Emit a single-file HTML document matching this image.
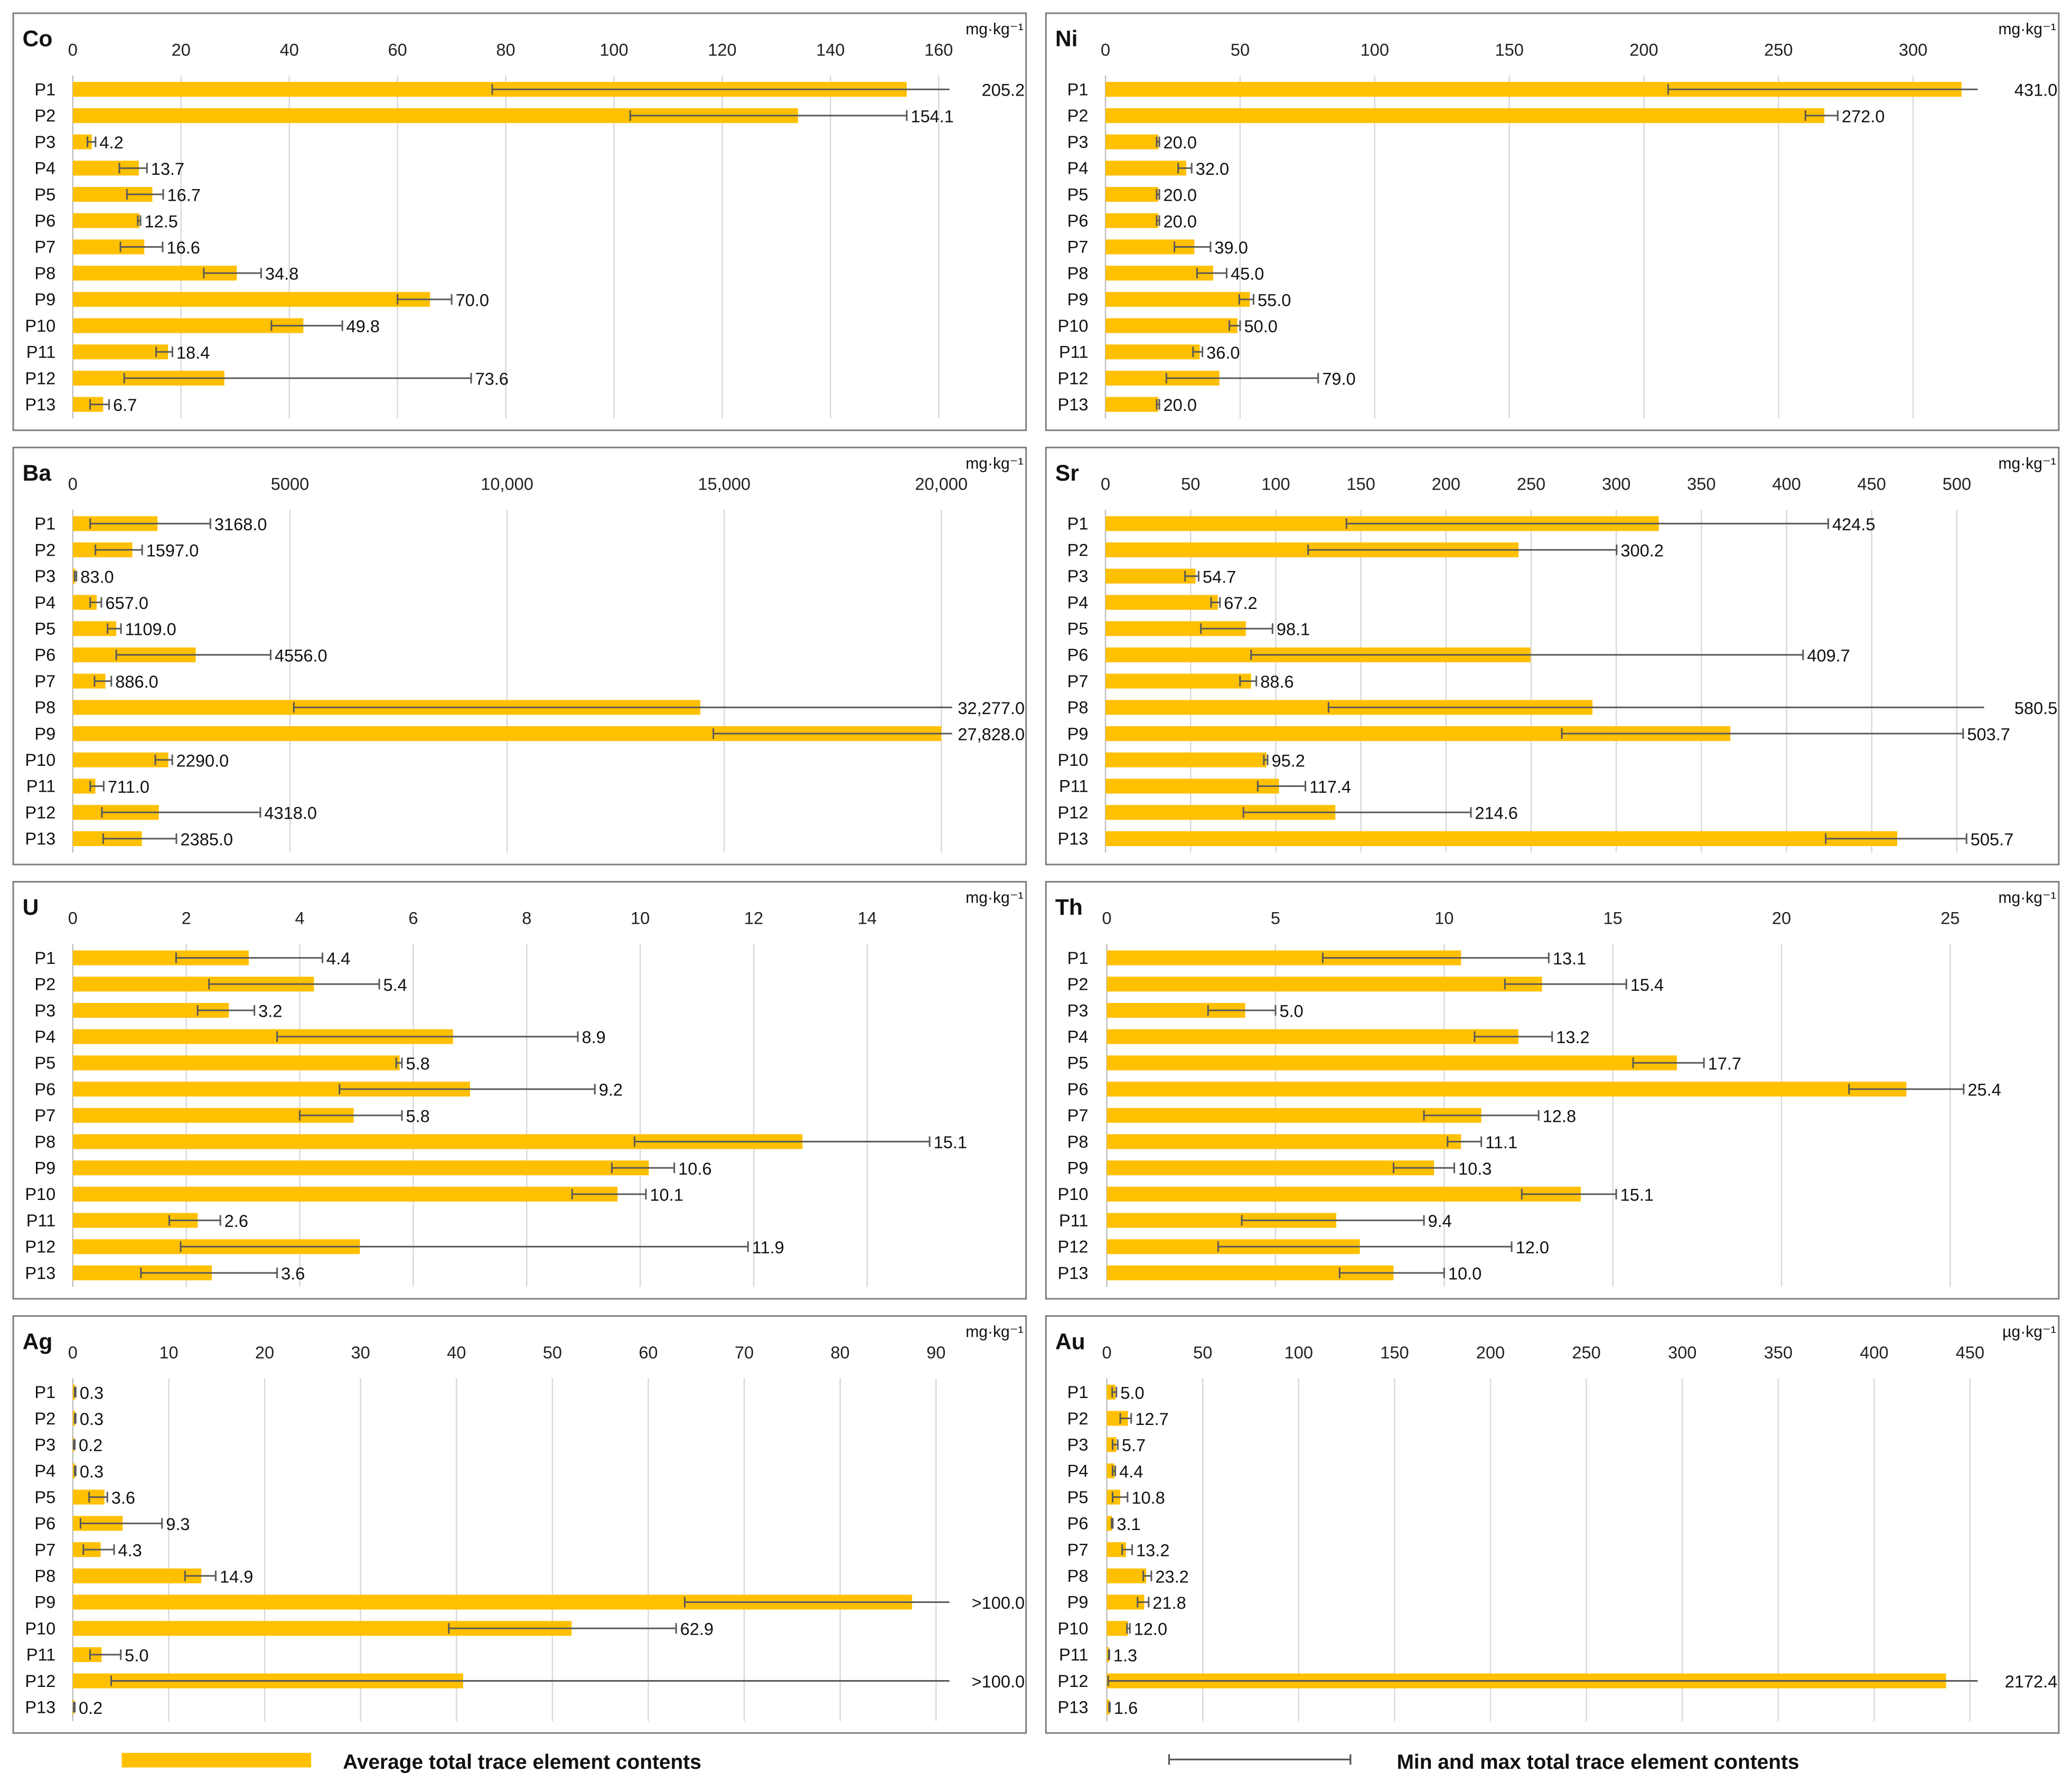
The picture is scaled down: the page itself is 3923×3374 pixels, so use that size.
<!DOCTYPE html>
<html><head><meta charset="utf-8">
<style>
html,body{margin:0;padding:0;background:#fff;}
svg{display:block;}
text{font-family:"Liberation Sans",sans-serif;}
</style></head>
<body>
<svg id="fig" xmlns="http://www.w3.org/2000/svg" width="3923" height="3374" viewBox="0 0 1565 1346" preserveAspectRatio="none">
<g id="root"></g>
<g>
  <rect x="92" y="1324" width="143" height="11" fill="#FFC000"/>
  <text x="259" y="1336" font-size="15.5" font-weight="bold" fill="#111">Average total trace element contents</text>
  <g stroke="#595959" stroke-width="1.3">
    <line x1="883" y1="1329" x2="1020" y2="1329"/><line x1="883" y1="1325" x2="883" y2="1333"/><line x1="1020" y1="1325" x2="1020" y2="1333"/>
  </g>
  <text x="1055" y="1336" font-size="15.5" font-weight="bold" fill="#111">Min and max total trace element contents</text>
</g>
</svg>
<script>
const categories = ["P1","P2","P3","P4","P5","P6","P7","P8","P9","P10","P11","P12","P13"];

const coAvg = [154.1,134,3.5,12.2,14.7,12.3,13.2,30.3,66,42.6,17.6,28,5.6];
const coMin = [77.5,103,2.7,8.6,10,12,8.8,24.2,60,36.7,15.4,9.5,3.2];
const coMax = [205.2,154.1,4.2,13.7,16.7,12.5,16.6,34.8,70.0,49.8,18.4,73.6,6.7];
const coTicks = [0,20,40,60,80,100,120,140,160];

const niAvg = [318,267,19.6,30,19.6,19.6,33,40,53.6,49,35,42.3,19.6];
const niMin = [209,260,19,27,19,19,25.6,34,49.7,46,32.5,22.6,19];
const niMax = [431.0,272.0,20.0,32.0,20.0,20.0,39.0,45.0,55.0,50.0,36.0,79.0,20.0];
const niTicks = [0,50,100,150,200,250,300];

const baAvg = [1950,1370,60,550,1000,2830,750,14450,20000,2200,520,1980,1590];
const baMin = [400,520,40,400,800,1000,500,5090,14750,1900,400,670,700];
const baMax = [3168.0,1597.0,83.0,657.0,1109.0,4556.0,886.0,32277.0,27828.0,2290.0,711.0,4318.0,2385.0];
const baTicks = [0,5000,10000,15000,20000];
const baTickLabels = ["0","5000","10,000","15,000","20,000"];

const srAvg = [325,242.6,52.9,66,82.4,249.6,85.5,286,367,94.5,101.9,135,465];
const srMin = [141.5,119,46.7,62,56,85.5,79,131,268,93,89.4,81,423];
const srMax = [424.5,300.2,54.7,67.2,98.1,409.7,88.6,580.5,503.7,95.2,117.4,214.6,505.7];
const srTicks = [0,50,100,150,200,250,300,350,400,450,500];

const uAvg = [3.1,4.25,2.75,6.7,5.76,7.0,4.95,12.86,10.15,9.6,2.2,5.06,2.45];
const uMin = [1.82,2.4,2.2,3.6,5.7,4.7,4.0,9.9,9.5,8.8,1.7,1.9,1.2];
const uMax = [4.4,5.4,3.2,8.9,5.8,9.2,5.8,15.1,10.6,10.1,2.6,11.9,3.6];
const uTicks = [0,2,4,6,8,10,12,14];

const thAvg = [10.5,12.9,4.1,12.2,16.9,23.7,11.1,10.5,9.7,14.05,6.8,7.5,8.5];
const thMin = [6.4,11.8,3.0,10.9,15.6,22.0,9.4,10.1,8.5,12.3,4.0,3.3,6.9];
const thMax = [13.1,15.4,5.0,13.2,17.7,25.4,12.8,11.1,10.3,15.1,9.4,12.0,10.0];
const thTicks = [0,5,10,15,20,25];

const agAvg = [0.25,0.25,0.15,0.25,3.3,5.2,2.9,13.4,87.5,52,3.0,40.7,0.15];
const agMin = [0.2,0.2,0.1,0.2,1.7,0.8,1.1,11.7,63.8,39.2,1.8,4.0,0.1];
const agMax = [0.3,0.3,0.2,0.3,3.6,9.3,4.3,14.9,100.0,62.9,5.0,100.0,0.2];
const agTicks = [0,10,20,30,40,50,60,70,80,90];

const auAvg = [4.5,11,5,4,7,2.8,10,20.5,19.5,11,1.2,437.5,1.4];
const auMin = [2.8,7,3,3,3,2.5,8,19,16,10.5,1,0.7,1.2];
const auMax = [5.0,12.7,5.7,4.4,10.8,3.1,13.2,23.2,21.8,12.0,1.3,2172.4,1.6];
const auTicks = [0,50,100,150,200,250,300,350,400,450];

const panels = [
 {name:"co",title:"Co",unit:"mg·kg⁻¹",px:10,py:10,x0:45,tickEnd:654,clip:162,avg:coAvg,min:coMin,max:coMax,ticks:coTicks},
 {name:"ni",title:"Ni",unit:"mg·kg⁻¹",px:790,py:10,x0:45,tickEnd:610,clip:324,avg:niAvg,min:niMin,max:niMax,ticks:niTicks},
 {name:"ba",title:"Ba",unit:"mg·kg⁻¹",px:10,py:338,x0:45,tickEnd:656,clip:20250,avg:baAvg,min:baMin,max:baMax,ticks:baTicks,labels:baTickLabels},
 {name:"sr",title:"Sr",unit:"mg·kg⁻¹",px:790,py:338,x0:45,tickEnd:643,clip:516,avg:srAvg,min:srMin,max:srMax,ticks:srTicks},
 {name:"u",title:"U",unit:"mg·kg⁻¹",px:10,py:666,x0:45,tickEnd:600,clip:1e9,avg:uAvg,min:uMin,max:uMax,ticks:uTicks},
 {name:"th",title:"Th",unit:"mg·kg⁻¹",px:790,py:666,x0:46,tickEnd:637,clip:1e9,avg:thAvg,min:thMin,max:thMax,ticks:thTicks},
 {name:"ag",title:"Ag",unit:"mg·kg⁻¹",px:10,py:994,x0:45,tickEnd:652,clip:91.4,avg:agAvg,min:agMin,max:agMax,ticks:agTicks,over:true},
 {name:"au",title:"Au",unit:"µg·kg⁻¹",px:790,py:994,x0:46,tickEnd:652,clip:454,avg:auAvg,min:auMin,max:auMax,ticks:auTicks}
];

const NS="http://www.w3.org/2000/svg";
function mk(tag, attrs, parent){const e=document.createElementNS(NS,tag);for(const k in attrs)e.setAttribute(k,attrs[k]);parent.appendChild(e);return e;}
function fmt(v,p){
  if(p.over && v>=100) return ">100.0";
  let s=v.toFixed(1);
  if(v>=10000){const [i,d]=s.split(".");s=i.replace(/\B(?=(\d{3})+(?!\d))/g,",")+"."+d;}
  return s;
}
const root=document.getElementById("root");
panels.forEach(p=>{
  const g=mk("g",{},root);
  
  
  const W=765,H=315;
  const frame=mk("rect",{x:p.px,y:p.py,width:W,height:H,fill:"#fff",stroke:"#7f7f7f","stroke-width":1.2},g);
  
  
  const tmax=p.ticks[p.ticks.length-1];
  const X=v=>p.px+p.x0+v/tmax*p.tickEnd;
  const rowY=i=>p.py+57.5+i*19.83;
  const gTop=p.py+47, gBot=p.py+306;
  p.ticks.forEach((t,i)=>{
    const gl=mk("line",{x1:X(t),x2:X(t),y1:gTop,y2:gBot,stroke:i===0?"#bfbfbf":"#d9d9d9","stroke-width":1},g);
    
    
    const tl=mk("text",{x:X(t),y:p.py+32,"font-size":13,"text-anchor":"middle",fill:"#222"},g);
    tl.textContent=p.labels?p.labels[i]:String(t);
    
    
  });
  const title=mk("text",{x:p.px+7,y:p.py+25,"font-size":17,"font-weight":"bold",fill:"#111"},g);
  title.textContent=p.title;
  
  
  const unit=mk("text",{x:p.px+W-2,y:p.py+16,"font-size":12,"text-anchor":"end",fill:"#111"},g);
  unit.textContent=p.unit;
  
  
  const rightEdge=p.px+W-1;
  categories.forEach((c,i)=>{
    const y=rowY(i);
    const cl=mk("text",{x:p.px+32,y:y+4.5,"font-size":13,"text-anchor":"end",fill:"#111"},g);
    cl.textContent=c;
    
    
    const bar=mk("rect",{x:X(0),y:y-5.6,width:Math.max(0.8,X(p.avg[i])-X(0)),height:11.2,fill:"#FFC000"},g);
    
    
    const clipped=p.max[i]>p.clip;
    const x1=X(p.min[i]), x2=X(Math.min(p.max[i],p.clip));
    const eg=mk("g",{stroke:"#595959","stroke-width":1.2},g);
    
    
    mk("line",{x1:x1,x2:x2,y1:y,y2:y},eg);
    mk("line",{x1:x1,x2:x1,y1:y-4,y2:y+4},eg);
    if(!clipped) mk("line",{x1:x2,x2:x2,y1:y-4,y2:y+4},eg);
    const vl=mk("text",{"font-size":13,fill:"#111",y:y+5},g);
    if(clipped){vl.setAttribute("x",rightEdge);vl.setAttribute("text-anchor","end");}
    else vl.setAttribute("x",x2+3);
    vl.textContent=fmt(p.max[i],p);
    
    
  });
});
</script>
</body></html>
